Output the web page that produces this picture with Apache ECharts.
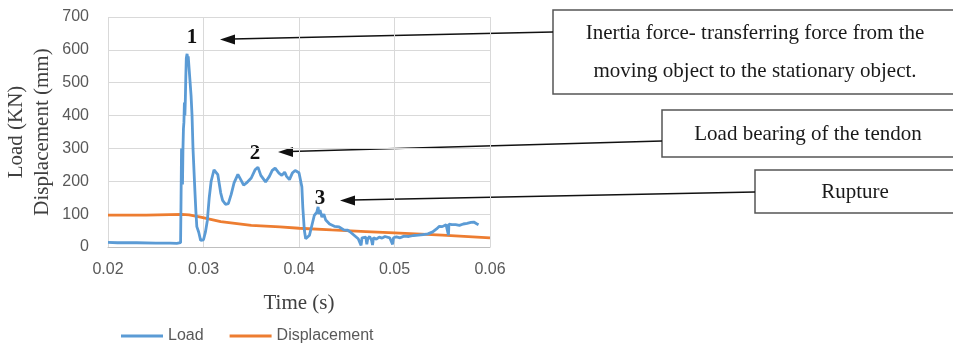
<!DOCTYPE html>
<html>
<head>
<meta charset="utf-8">
<script src="https://cdn.jsdelivr.net/npm/echarts@6/dist/echarts.min.js"></script>
<style>html,body{margin:0;padding:0;background:#fff;}#c{width:953px;height:348px;}</style>
</head>
<body>
<div id="c"></div>
<script>
const xTicks = [0.02, 0.03, 0.04, 0.05, 0.06];
const yTicks = [0, 100, 200, 300, 400, 500, 600, 700];

const loadT = [0.0200,0.0210,0.0230,0.0250,0.0265,0.0272,0.0276,0.02765,0.0277,0.02775,0.0278,0.02785,0.0279,0.02795,0.0280,0.02805,0.0281,0.02815,0.0282,0.02828,0.02835,0.0284,0.0285,0.0287,0.0288,0.0289,0.0291,0.0292,0.0293,0.0295,0.0297,0.0298,0.0300,0.0302,0.0304,0.0306,0.0308,0.0311,0.0313,0.0315,0.0318,0.0320,0.0323,0.0326,0.0329,0.0332,0.0336,0.0339,0.0342,0.0345,0.0350,0.0354,0.0357,0.0360,0.0365,0.0369,0.0372,0.0375,0.0377,0.0379,0.0382,0.0385,0.0387,0.0390,0.0393,0.0396,0.0400,0.0402,0.0403,0.0404,0.04056,0.0407,0.0409,0.0411,0.0413,0.0416,0.04185,0.0420,0.0421,0.0422,0.0424,0.0426,0.0428,0.0430,0.0432,0.0434,0.0437,0.0439,0.0442,0.0444,0.0447,0.0449,0.0451,0.0454,0.0456,0.0458,0.0460,0.0462,0.0465,0.0466,0.0468,0.0470,0.0471,0.0472,0.0474,0.0476,0.0477,0.0478,0.0481,0.0484,0.0487,0.0490,0.0495,0.0497,0.0498,0.0499,0.0502,0.0506,0.0510,0.0515,0.0520,0.0525,0.0530,0.0535,0.0540,0.0544,0.0547,0.0550,0.0554,0.0556,0.05565,0.0557,0.0560,0.0564,0.0568,0.0572,0.0576,0.0580,0.0583,0.0586,0.0588];
const loadV = [14,13,13,12,12,11,13,150,300,250,190,300,360,380,440,400,450,520,575,588,570,580,540,460,400,300,170,110,62,45,20,15,22,45,80,150,200,235,240,220,165,142,130,132,160,195,221,205,188,195,210,235,243,218,198,215,233,240,245,225,218,228,215,205,225,233,226,222,183,120,51,25,22,36,60,96,105,122,100,112,91,100,82,81,70,76,63,68,61,66,52,58,51,45,41,35,30,25,5,28,22,30,8,25,32,20,6,28,24,30,27,32,28,30,8,28,31,28,33,32,35,36,38,40,46,55,63,62,68,71,36,70,68,68,66,70,72,75,76,71,68];

const dispT = [0.0200,0.0240,0.0277,0.0285,0.0297,0.0318,0.0350,0.0380,0.0400,0.0434,0.0470,0.0500,0.0550,0.0600];
const dispV = [97,97,99,98,91,77,66,61,57,52,47,43,36,28];

const seriesNames = ['Load', 'Displacement'];

const loadData = loadT.map((t, i) => [t, loadV[i]]);
const dispData = dispT.map((t, i) => [t, dispV[i]]);

const chart = echarts.init(document.getElementById('c'));
const serif = '"Liberation Serif", "DejaVu Serif", serif';
const sans = '"Liberation Sans", Arial, sans-serif';

chart.setOption({
  animation: false,
  backgroundColor: '#ffffff',
  grid: { left: 108, right: 463, top: 17, bottom: 101, containLabel: false },
  xAxis: {
    type: 'value', min: 0.02, max: 0.06, interval: 0.01,
    name: 'Time (s)', nameLocation: 'middle', nameGap: 46,
    nameTextStyle: { fontFamily: serif, fontSize: 21, color: '#404040' },
    axisLine: { show: true, lineStyle: { color: '#BFBFBF', width: 1 } },
    axisTick: { show: false },
    axisLabel: { margin: 15, fontFamily: sans, fontSize: 16, color: '#595959', formatter: v => v.toFixed(2) },
    splitLine: { show: true, lineStyle: { color: '#D9D9D9', width: 1 } }
  },
  yAxis: {
    type: 'value', min: 0, max: 700, interval: 100,
    name: 'Load (KN)\nDisplacement (mm)', nameLocation: 'middle', nameGap: 53, nameRotate: 90,
    nameTextStyle: { fontFamily: serif, fontSize: 21, lineHeight: 26, color: '#404040' },
    axisLine: { show: false },
    axisTick: { show: false },
    axisLabel: { margin: 19, fontFamily: sans, fontSize: 16, color: '#595959' },
    splitLine: { show: true, lineStyle: { color: '#D9D9D9', width: 1 } }
  },
  legend: {
    data: seriesNames, left: 116, top: 323, icon: 'rect', itemWidth: 42, itemHeight: 3, itemGap: 26,
    textStyle: { fontFamily: sans, fontSize: 16, color: '#595959', padding: [0, 0, 0, 0] }
  },
  series: [
    { name: seriesNames[0], type: 'line', data: loadData, showSymbol: false, symbol: 'none',
      lineStyle: { color: '#5B9BD5', width: 2.8 }, itemStyle: { color: '#5B9BD5' }, z: 3 },
    { name: seriesNames[1], type: 'line', data: dispData, showSymbol: false, symbol: 'none',
      lineStyle: { color: '#ED7D31', width: 2.8 }, itemStyle: { color: '#ED7D31' }, z: 2 }
  ],
  graphic: [
    { type: 'rect', shape: { x: 553, y: 10, width: 420, height: 84 }, style: { fill: '#fff', stroke: '#555', lineWidth: 1.5 } },
    { type: 'rect', shape: { x: 662, y: 110, width: 310, height: 47 }, style: { fill: '#fff', stroke: '#555', lineWidth: 1.5 } },
    { type: 'rect', shape: { x: 755, y: 170, width: 220, height: 43 }, style: { fill: '#fff', stroke: '#555', lineWidth: 1.5 } },
    { type: 'text', x: 755, y: 52, style: { text: 'Inertia force- transferring force from the\nmoving object to the stationary object.', font: '21px ' + serif, lineHeight: 38, fill: '#1a1a1a', align: 'center', verticalAlign: 'middle' } },
    { type: 'text', x: 808, y: 134, style: { text: 'Load bearing of the tendon', font: '21px ' + serif, fill: '#1a1a1a', align: 'center', verticalAlign: 'middle' } },
    { type: 'text', x: 855, y: 192, style: { text: 'Rupture', font: '21px ' + serif, fill: '#1a1a1a', align: 'center', verticalAlign: 'middle' } },
    { type: 'line', shape: { x1: 553, y1: 32, x2: 232, y2: 39 }, style: { stroke: '#111', lineWidth: 1.5 } },
    { type: 'polygon', shape: { points: [[220, 39.5], [235, 34.5], [235, 44.5]] }, style: { fill: '#111' } },
    { type: 'line', shape: { x1: 662, y1: 141, x2: 290, y2: 151.5 }, style: { stroke: '#111', lineWidth: 1.5 } },
    { type: 'polygon', shape: { points: [[278, 152], [293, 147], [293, 157]] }, style: { fill: '#111' } },
    { type: 'line', shape: { x1: 755, y1: 192, x2: 352, y2: 200 }, style: { stroke: '#111', lineWidth: 1.5 } },
    { type: 'polygon', shape: { points: [[340, 200.5], [355, 195.5], [355, 205.5]] }, style: { fill: '#111' } },
    { type: 'text', x: 192, y: 38, style: { text: '1', font: 'bold 21px ' + serif, fill: '#111', align: 'center', verticalAlign: 'middle' } },
    { type: 'text', x: 255, y: 154, style: { text: '2', font: 'bold 21px ' + serif, fill: '#111', align: 'center', verticalAlign: 'middle' } },
    { type: 'text', x: 320, y: 199, style: { text: '3', font: 'bold 21px ' + serif, fill: '#111', align: 'center', verticalAlign: 'middle' } }
  ]
});
</script>
</body>
</html>
